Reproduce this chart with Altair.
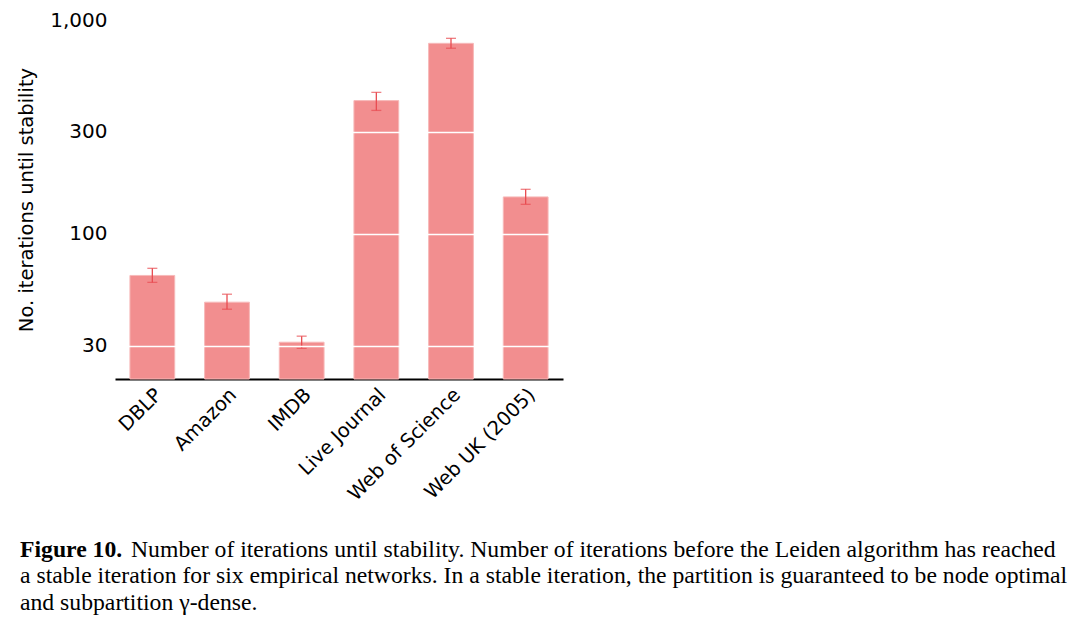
import altair as alt
import pandas as pd

networks = ["DBLP", "Amazon", "IMDB", "Live Journal", "Web of Science", "Web UK (2005)"]
iterations = [64, 48, 31.2, 420, 778, 149]
err_low = [59.4, 44.5, 29.2, 378, 738, 137.6]
err_high = [69.1, 52.3, 33.3, 459, 821, 161.7]
y_ticks = [30, 100, 300, 1000]
y_domain = [21, 1000]

caption_bold = "Figure 10."
caption_lines = [
    "Number of iterations until stability. Number of iterations before the Leiden algorithm has reached",
    "a stable iteration for six empirical networks. In a stable iteration, the partition is guaranteed to be node optimal",
    "and subpartition \u03b3-dense.",
]

df = pd.DataFrame({"network": networks, "iterations": iterations, "lo": err_low, "hi": err_high})

W, H = 448, 359
SANS = "DejaVu Sans"
SERIF = "Liberation Serif"
CAP_SIZE = 23.7

x = alt.X("network:N", sort=networks, title=None,
          scale=alt.Scale(paddingInner=0.4, paddingOuter=0.2),
          axis=alt.Axis(labelAngle=-45, labelAlign="right", labelBaseline="top",
                        labelFontSize=19.5, labelFont=SANS, labelColor="black",
                        ticks=False, domainColor="black", domainWidth=2,
                        labelPadding=6, grid=False))
yscale = alt.Scale(type="log", domain=y_domain, nice=False, clamp=True)

bars = alt.Chart(df).mark_bar(color="#f28e8f", stroke="#f7b9b9", strokeWidth=1).encode(
    x=x,
    y=alt.Y("iterations:Q", scale=yscale, title="No. iterations until stability",
            axis=alt.Axis(values=y_ticks, format=",", domain=False, ticks=False,
                          grid=True, gridColor="#ffffff", gridWidth=1.6, zindex=1,
                          labelFontSize=20, labelFont=SANS, labelColor="black",
                          labelPadding=8, titleFontSize=19.5, titleFont=SANS,
                          titleFontWeight="normal", titleColor="black", titlePadding=13)),
)

rules = alt.Chart(df).mark_rule(color="#e84c51", strokeWidth=1.3).encode(
    x=alt.X("network:N", sort=networks),
    y=alt.Y("lo:Q", scale=yscale),
    y2="hi:Q",
)
caps_hi = alt.Chart(df).mark_tick(color="#e84c51", size=10, thickness=1.3, orient="horizontal").encode(
    x=alt.X("network:N", sort=networks),
    y=alt.Y("hi:Q", scale=yscale),
)
caps_lo = alt.Chart(df).mark_tick(color="#e84c51", size=10, thickness=1.3, orient="horizontal").encode(
    x=alt.X("network:N", sort=networks),
    y=alt.Y("lo:Q", scale=yscale),
)


def caption(text, xv, yv, bold=False):
    return alt.Chart(pd.DataFrame({"t": [text]})).mark_text(
        font=SERIF, fontSize=CAP_SIZE, fontWeight="bold" if bold else "normal",
        align="left", baseline="alphabetic", color="black"
    ).encode(text="t:N", x=alt.value(xv), y=alt.value(yv))


cap_layers = [
    caption(caption_bold, -95, 537, bold=True),
    caption(caption_lines[0], 16, 537),
    caption(caption_lines[1], -95, 563),
    caption(caption_lines[2], -95, 590),
]

chart = alt.layer(bars, rules, caps_hi, caps_lo, *cap_layers).properties(
    width=W, height=H,
    autosize=alt.AutoSizeParams(type="none"),
    padding={"left": 107, "top": 12, "right": 515, "bottom": 238},
).configure_view(stroke=None)

chart.save("out.html", embed_options={"renderer": "svg", "actions": False})
